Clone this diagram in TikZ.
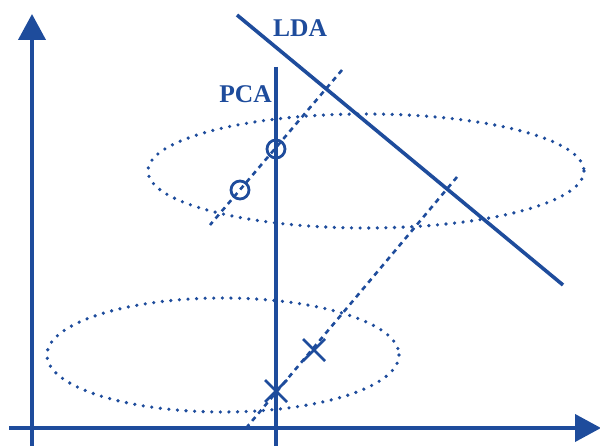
\documentclass[tikz,border=0pt]{standalone}
\usepackage{fontspec}
\setmainfont{Liberation Serif}
\usetikzlibrary{arrows.meta}
\definecolor{pblue}{RGB}{30,76,156}
\begin{document}
\begin{tikzpicture}[x=1pt,y=-1pt,
  axis/.style={pblue,line width=4pt,-{Triangle[length=26pt,width=27pt]}},
  proj/.style={pblue,line width=3.6pt},
  dotline/.style={pblue,line width=3.6pt,line cap=round,dash pattern=on 0pt off 8.6pt},
  dashline/.style={pblue,line width=2.6pt,dash pattern=on 5pt off 4.5pt},
  lbl/.style={pblue,font=\bfseries\fontsize{25.5}{25.5}\selectfont,inner sep=0pt},
  circ/.style={circle,draw=pblue,line width=2.8pt,minimum size=18pt,inner sep=0pt},
  xmark/.style={pblue,line width=2.8pt}]
\useasboundingbox (0,0) rectangle (600,446);
% axes
\coordinate (yb) at (32,446);
\coordinate (yt) at (32,14);
\coordinate (xl) at (9,428);
\coordinate (xr) at (601,428);
\draw[axis] (yb) -- (yt);
\draw[axis] (xl) -- (xr);
% ellipses
\coordinate (e1) at (366,171);
\coordinate (e2) at (223,355);
\draw[dotline] (e1) ellipse [x radius=218, y radius=57];
\draw[dotline] (e2) ellipse [x radius=176, y radius=57];
% PCA line
\coordinate (pt) at (276,67);
\coordinate (pb) at (276,446);
\draw[proj] (pt) -- (pb);
% LDA line
\coordinate (lt) at (237,15);
\coordinate (lb) at (563,285);
\draw[proj] (lt) -- (lb);
% labels
\node[lbl,anchor=base west] (lda) at (273,37) {LDA};
\node[lbl,anchor=base east] (pca) at (272,103) {PCA};
% dashed lines
\coordinate (d1t) at (342,70);
\coordinate (d1b) at (210,225);
\draw[dashline] (d1t) -- (d1b);
\coordinate (d2t) at (457,177);
\coordinate (d2b) at (247,427);
\draw[dashline] (d2t) -- (d2b);
% circles
\node[circ] (c1) at (276,149) {};
\node[circ] (c2) at (240,190) {};
% crosses
\coordinate (x1) at (314,350);
\coordinate (x2) at (276,391);
\draw[xmark] ([shift={(-11,-11)}]x1) -- ([shift={(11,11)}]x1);
\draw[xmark] ([shift={(-11,11)}]x1) -- ([shift={(11,-11)}]x1);
\draw[xmark] ([shift={(-11,-11)}]x2) -- ([shift={(11,11)}]x2);
\draw[xmark] ([shift={(-11,11)}]x2) -- ([shift={(11,-11)}]x2);
\end{tikzpicture}
\end{document}
